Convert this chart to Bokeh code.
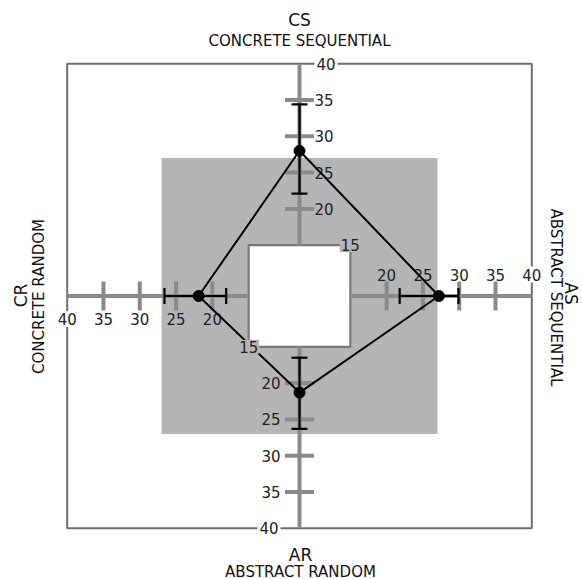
from bokeh.plotting import figure
from bokeh.models import Range1d, Label
from bokeh.core.properties import value
from bokeh.embed import file_html
from bokeh.resources import INLINE

# ---------------- data ----------------
codes = ["CS", "AS", "AR", "CR"]
names = ["CONCRETE SEQUENTIAL", "ABSTRACT SEQUENTIAL", "ABSTRACT RANDOM", "CONCRETE RANDOM"]
means = [28.0, 27.2, 21.3, 21.9]
lows = [22.1, 21.8, 16.5, 18.1]
highs = [34.4, 29.9, 26.3, 26.6]
tick_values = [20, 25, 30, 35]
tick_labels = ["20", "25", "30", "35"]
inner_value = 15
outer_value = 40
band_value = 27
center_value = 8.0

# ---------------- geometry ----------------
K = 7.26  # pixels per unit
CX, CY = 299.0, 295.5
W, H = 582, 579
dirs = {"CS": (0, 1), "AS": (1, 0), "AR": (0, -1), "CR": (-1, 0)}


def pt(v, code):
    dx, dy = dirs[code]
    r = v - center_value
    return r * dx, r * dy


def px(n):
    return n / K


FONT = value("DejaVu Sans")
AXIS_COLOR = "#8a8a8a"
TICK_FS = "15px"

p = figure(width=W, height=H,
           x_range=Range1d((0 - CX) / K, (W - CX) / K),
           y_range=Range1d(-(H - CY) / K, (CY - 0) / K),
           output_backend="svg", toolbar_location=None, min_border=0,
           x_axis_location=None, y_axis_location=None,
           outline_line_color=None)
p.grid.visible = False
p.background_fill_color = "white"

rb = band_value - center_value
ri = inner_value - center_value
ro = outer_value - center_value

# grey band
p.quad(left=[-rb], right=[rb], bottom=[-rb], top=[rb], fill_color="#b5b5b5", line_color=None)
# outer frame
p.quad(left=[-ro], right=[ro], bottom=[-ro], top=[ro], fill_color=None,
       line_color="#6e6e6e", line_width=2)
# inner white square
p.quad(left=[-ri], right=[ri], bottom=[-ri], top=[ri], fill_color="white",
       line_color="#7a7a7a", line_width=2.2)

# axes lines
for c in codes:
    x0, y0 = pt(inner_value, c)
    x1, y1 = pt(outer_value, c)
    p.segment(x0=[x0], y0=[y0], x1=[x1], y1=[y1], line_color=AXIS_COLOR, line_width=4)

# ticks
half = px(14.5)
for c in codes:
    dx, dy = dirs[c]
    xs0, ys0, xs1, ys1 = [], [], [], []
    for t in tick_values:
        x, y = pt(t, c)
        xs0.append(x - half * abs(dy)); xs1.append(x + half * abs(dy))
        ys0.append(y - half * abs(dx)); ys1.append(y + half * abs(dx))
    p.segment(x0=xs0, y0=ys0, x1=xs1, y1=ys1, line_color=AXIS_COLOR, line_width=4)

# tick labels
lab_kw = dict(text_font=FONT, text_font_size=TICK_FS, text_color="#222222")
for c in codes:
    xs, ys = [], []
    for t in tick_values:
        x, y = pt(t, c)
        xs.append(x); ys.append(y)
    if c == "CS":
        p.text(x=[x + px(15) for x in xs], y=ys, text=tick_labels, text_align="left",
               text_baseline="middle", **lab_kw)
    elif c == "AR":
        p.text(x=[x - px(19) for x in xs], y=ys, text=tick_labels, text_align="right",
               text_baseline="middle", **lab_kw)
    elif c == "AS":
        p.text(x=xs, y=[y + px(21.5) for y in ys], text=tick_labels, text_align="center",
               text_baseline="middle", **lab_kw)
    else:
        p.text(x=xs, y=[y - px(23) for y in ys], text=tick_labels, text_align="center",
               text_baseline="middle", **lab_kw)

# "40" labels on the frame (with white background)
for c in codes:
    x, y = pt(outer_value, c)
    if c == "CS":
        x, y, al = x + px(15), y, "left"
    elif c == "AR":
        x, y, al = x - px(19), y, "right"
    elif c == "AS":
        x, y, al = x, y + px(21.5), "center"
    else:
        x, y, al = x, y - px(23), "center"
    p.add_layout(Label(x=x, y=y, text=str(outer_value), text_align=al, text_baseline="middle",
                       text_font="DejaVu Sans", text_font_size=TICK_FS, text_color="#222222",
                       background_fill_color="white", padding=2))

# "15" labels at inner square corners
for (sx, sy) in [(1, 1), (-1, -1)]:
    p.add_layout(Label(x=sx * ri, y=sy * ri, text=str(inner_value), text_align="center",
                       text_baseline="middle", text_font="DejaVu Sans", text_font_size=TICK_FS,
                       text_color="#222222", background_fill_color="#b5b5b5", padding=1))

# error bars
cap = px(8)
for c, lo, hi in zip(codes, lows, highs):
    dx, dy = dirs[c]
    x0, y0 = pt(lo, c)
    x1, y1 = pt(hi, c)
    p.segment(x0=[x0], y0=[y0], x1=[x1], y1=[y1], line_color="black", line_width=2.2)
    cx0 = [x0 - cap * abs(dy), x1 - cap * abs(dy)]
    cx1 = [x0 + cap * abs(dy), x1 + cap * abs(dy)]
    cy0 = [y0 - cap * abs(dx), y1 - cap * abs(dx)]
    cy1 = [y0 + cap * abs(dx), y1 + cap * abs(dx)]
    p.segment(x0=cx0, y0=cy0, x1=cx1, y1=cy1, line_color="black", line_width=2.2)

# diamond
mx, my = [], []
for c, m in zip(codes, means):
    x, y = pt(m, c)
    mx.append(x); my.append(y)
p.line(x=mx + [mx[0]], y=my + [my[0]], line_color="black", line_width=2)
p.scatter(x=mx, y=my, size=11, fill_color="black", line_color="black")

# titles
def page(xp, yp):
    return (xp - CX) / K, (CY - yp) / K

title_pos = {
    "CS": ((299, 19), (299, 40), 0.0),
    "AR": ((300, 554), (300, 571), 0.0),
    "CR": ((20, 295), (38, 296), 1.5707963),
    "AS": ((570, 293), (555, 297), -1.5707963),
}
for c, n in zip(codes, names):
    (a, b, ang) = title_pos[c]
    x1, y1 = page(*a)
    x2, y2 = page(*b)
    p.text(x=[x1], y=[y1], text=[c], angle=ang, text_align="center", text_baseline="middle",
           text_font=FONT, text_font_size="17px", text_color="#111111")
    p.text(x=[x2], y=[y2], text=[n], angle=ang, text_align="center", text_baseline="middle",
           text_font=FONT, text_font_size="15px", text_color="#111111")

open("out.html", "w").write(file_html(p, INLINE))
